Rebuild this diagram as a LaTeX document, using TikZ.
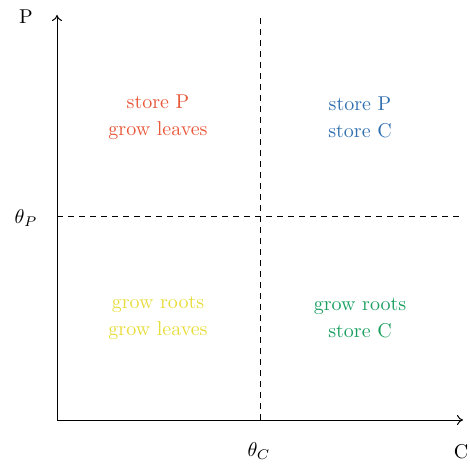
\documentclass[tikz,border=0pt]{standalone}
\usetikzlibrary{arrows.meta}
\begin{document}
\begin{tikzpicture}[x=0.5pt,y=-0.5pt,
  ax/.style={line width=0.5pt,-{To[length=3pt,width=5pt]}},
  thr/.style={line width=0.5pt,dash pattern=on 3pt off 2.5pt},
  lbl/.style={inner sep=0pt,align=center,font=\normalsize},
  qtxt/.style={inner sep=0pt,align=center}]
\useasboundingbox (0,0) rectangle (470,464);
\definecolor{cred}{RGB}{232,88,58}
\definecolor{cblue}{RGB}{50,112,176}
\definecolor{cyel}{RGB}{232,220,58}
\definecolor{cgreen}{RGB}{28,160,96}
\coordinate (O) at (57,420);
\coordinate (ytop) at (57,15);
\coordinate (xend) at (463,420);
\coordinate (vt) at (260,15);
\coordinate (vb) at (260,420);
\coordinate (hl) at (57,217);
\coordinate (hr) at (463,217);
\draw[ax] (O) -- (ytop);
\draw[ax] (O) -- (xend);
\draw[thr] (vb) -- (vt);
\draw[thr] (hl) -- (hr);
\node[lbl] (P) at (26,17) {P};
\node[lbl] (C) at (461,452) {C};
\node[lbl] (tP) at (26,218) {$\theta_P$};
\node[lbl] (tC) at (259,451) {$\theta_C$};
\node[qtxt,text=cred] (q1) at (158,117) {store P\\[1.5pt]grow leaves};
\node[qtxt,text=cblue] (q2) at (360,117) {store P\\[1.5pt]store C};
\node[qtxt,text=cyel] (q3) at (158,318) {grow roots\\[1.5pt]grow leaves};
\node[qtxt,text=cgreen] (q4) at (360,318) {grow roots\\[1.5pt]store C};
\end{tikzpicture}
\end{document}
